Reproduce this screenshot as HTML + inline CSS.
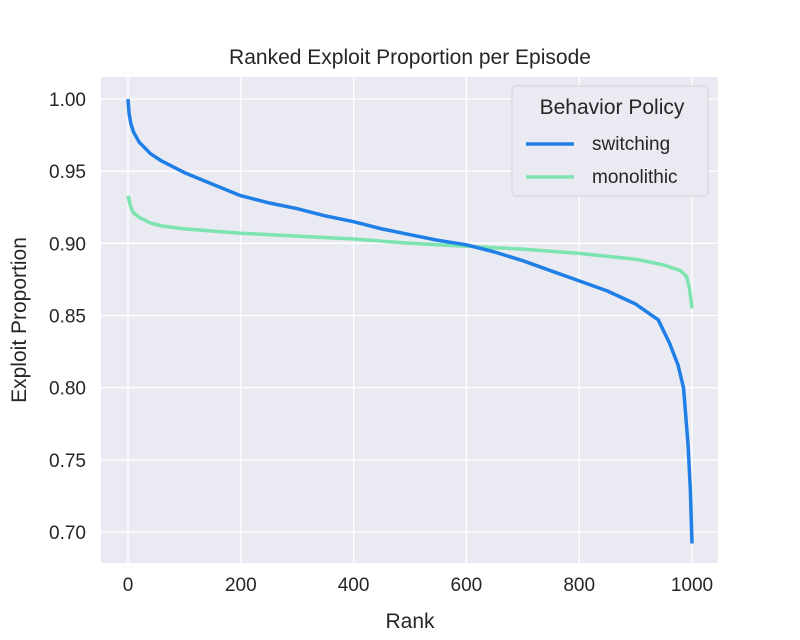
<!DOCTYPE html>
<html><head><meta charset="utf-8"><style>
body{margin:0;background:#fff;font-family:"Liberation Sans",sans-serif;}
</style></head><body>
<svg id="chart" width="800" height="635" xmlns="http://www.w3.org/2000/svg" font-family="Liberation Sans, sans-serif">
<rect x="101" y="77" width="617" height="486" fill="#eaeaf2"/>
<g id="grid"></g><g id="ticks"></g><g id="lines"></g>
<text x="410" y="64" text-anchor="middle" font-size="21" fill="#262626">Ranked Exploit Proportion per Episode</text>
<text x="410" y="628" text-anchor="middle" font-size="21" fill="#262626">Rank</text>
<text transform="translate(26,320) rotate(-90)" text-anchor="middle" font-size="21" fill="#262626">Exploit Proportion</text>
<g>
<rect x="512" y="86" width="196" height="110" rx="4" fill="#eaeaf2" stroke="#d0d0d8" opacity="0.9"/>
<text x="612" y="114" text-anchor="middle" font-size="21" fill="#262626">Behavior Policy</text>
<line x1="526" y1="144" x2="574" y2="144" stroke="#1f7fe6" stroke-width="3.5"/>
<text x="592" y="150" font-size="19" fill="#262626">switching</text>
<line x1="526" y1="177" x2="574" y2="177" stroke="#7de3b0" stroke-width="3.5"/>
<text x="592" y="183" font-size="19" fill="#262626">monolithic</text>
</g>
</svg>
<script>
const switchRank=[0,2,5,10,20,40,60,80,100,150,200,250,300,350,400,450,500,550,600,650,700,750,800,850,900,940,960,975,985,990,993,997,1000];
const switchVal=[1.0,0.99,0.983,0.977,0.970,0.962,0.957,0.953,0.949,0.941,0.933,0.928,0.924,0.919,0.915,0.910,0.906,0.902,0.899,0.894,0.888,0.881,0.874,0.867,0.858,0.847,0.831,0.816,0.800,0.775,0.76,0.73,0.692];
const monoRank=[0,5,10,20,40,60,100,200,300,400,500,600,700,800,900,950,980,990,995,1000];
const monoVal=[0.933,0.925,0.921,0.918,0.914,0.912,0.910,0.907,0.905,0.903,0.900,0.898,0.896,0.893,0.889,0.885,0.881,0.877,0.870,0.855];
const xTicks=[0,200,400,600,800,1000];
const yTicks=[0.70,0.75,0.80,0.85,0.90,0.95,1.00];
const NS="http://www.w3.org/2000/svg";
const X=v=>128+v*0.564;
const Y=v=>99+(1.0-v)/0.3*433;
function mk(t,a,p){const e=document.createElementNS(NS,t);for(const k in a)e.setAttribute(k,a[k]);document.getElementById(p).appendChild(e);return e;}
xTicks.forEach(t=>{
 const l=mk('line',{x1:X(t),x2:X(t),y1:77,y2:563,stroke:'#fff','stroke-width':1.3},'grid');
 
 
 const s=mk('text',{x:X(t),y:591,'text-anchor':'middle','font-size':19,fill:'#262626'},'ticks');
 s.textContent=t;
 
 
});
yTicks.forEach(t=>{
 const l=mk('line',{x1:101,x2:718,y1:Y(t),y2:Y(t),stroke:'#fff','stroke-width':1.3},'grid');
 
 
 const s=mk('text',{x:86,y:Y(t)+7,'text-anchor':'end','font-size':19,fill:'#262626'},'ticks');
 s.textContent=t.toFixed(2);
 
 
});
function line(r,v,c,n){
 const d=r.map((x,i)=>(i?'L':'M')+X(x).toFixed(1)+','+Y(v[i]).toFixed(1)).join('');
 const p=mk('path',{d:d,fill:'none',stroke:c,'stroke-width':3.5,'stroke-linejoin':'round'},'lines');
 
 
}
line(monoRank,monoVal,'#7de3b0','line-monolithic');
line(switchRank,switchVal,'#1f7fe6','line-switching');
</script>
</body></html>
